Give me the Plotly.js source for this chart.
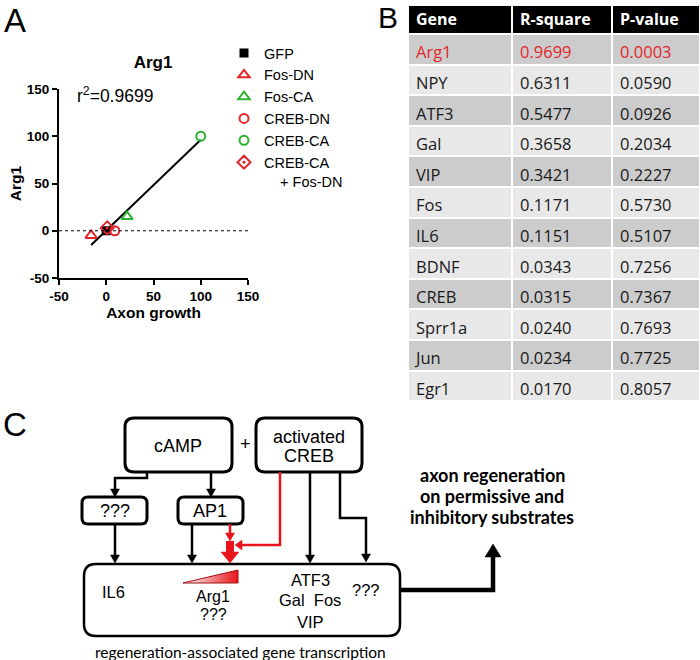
<!DOCTYPE html>
<html><head><meta charset="utf-8">
<script src="https://cdn.plot.ly/plotly-3.0.1.min.js"></script>
<style>html,body{margin:0;padding:0;background:#fff}</style>
</head><body><div id="chart" style="width:700px;height:660px"></div>
<script>
// ---------- Panel A data ----------
const groups = ['GFP', 'Fos-DN', 'Fos-CA', 'CREB-DN', 'CREB-CA', 'CREB-CA + Fos-DN'];
const axonGrowth = [0, -16, 22, 9, 100, 1];
const arg1Level = [0, -5, 15, 0, 100, 3];
const r2Text = '0.9699';
const xTicks = [-50, 0, 50, 100, 150];
const yTicks = [-50, 0, 50, 100, 150];

// ---------- Panel B data ----------
const genes = ['Arg1', 'NPY', 'ATF3', 'Gal', 'VIP', 'Fos', 'IL6', 'BDNF', 'CREB', 'Sprr1a', 'Jun', 'Egr1'];
const rSquare = [0.9699, 0.6311, 0.5477, 0.3658, 0.3421, 0.1171, 0.1151, 0.0343, 0.0315, 0.0240, 0.0234, 0.0170];
const pValue = [0.0003, 0.0590, 0.0926, 0.2034, 0.2227, 0.5730, 0.5107, 0.7256, 0.7367, 0.7693, 0.7725, 0.8057];
const tableHeader = ['Gene', 'R-square', 'P-value'];

// ---------- styles ----------
const RED = '#e3262b', GREEN = '#2cb52c';
const groupStyle = [
  {symbol: 'square', color: '#000', size: 7},
  {symbol: 'triangle-up-open', color: RED, size: 10},
  {symbol: 'triangle-up-open', color: GREEN, size: 10},
  {symbol: 'circle-open', color: RED, size: 9},
  {symbol: 'circle-open', color: GREEN, size: 9},
  {symbol: 'diamond-open-dot', color: RED, size: 10}
];

// least-squares fit computed from the data
const n = axonGrowth.length;
const mx = axonGrowth.reduce((a, b) => a + b, 0) / n;
const my = arg1Level.reduce((a, b) => a + b, 0) / n;
let sxy = 0, sxx = 0;
for (let i = 0; i < n; i++) { sxy += (axonGrowth[i] - mx) * (arg1Level[i] - my); sxx += (axonGrowth[i] - mx) ** 2; }
const slope = sxy / sxx, icpt = my - slope * mx;
const fitX = [Math.min(...axonGrowth), Math.max(...axonGrowth)];
const fitY = fitX.map(v => icpt + slope * v);

const traces = [];
traces.push({x: fitX, y: fitY, mode: 'lines', line: {color: '#000', width: 2}, showlegend: false, hoverinfo: 'skip', xaxis: 'x', yaxis: 'y'});
groups.forEach((g, i) => {
  const s = groupStyle[i];
  const label = g === 'CREB-CA + Fos-DN' ? 'CREB-CA<br>\u00a0\u00a0\u00a0\u00a0+ Fos-DN' : g;
  traces.push({
    x: [axonGrowth[i]], y: [arg1Level[i]], name: label, mode: 'markers', xaxis: 'x', yaxis: 'y',
    marker: {symbol: s.symbol, size: s.size, color: s.color, line: {color: s.color, width: 2}}
  });
});

// ---------- table ----------
// background layer (cell fills) + text layer (transparent fills, nudged up so text sits centred)
const rowFill = genes.map((_, i) => i % 2 === 0 ? '#cccccc' : '#e8e8e8');
const rowFont = genes.map((_, i) => i === 0 ? RED : '#1a1a1a');
const TF = 'Open Sans';
const blank = genes.map(() => ' ');
const clear = genes.map(() => 'rgba(0,0,0,0)');
traces.push({
  type: 'table',
  domain: {x: [408 / 700, 1], y: [1 - 402 / 660, 1 - 5 / 660]},
  columnwidth: [104, 100, 88],
  header: {values: [' ', ' ', ' '], fill: {color: '#000'}, height: 29, line: {color: '#ffffff', width: 2}},
  cells: {values: [blank, blank, blank], height: 30.6, fill: {color: [rowFill, rowFill, rowFill]}, line: {color: '#ffffff', width: 2}}
});
traces.push({
  type: 'table',
  domain: {x: [408 / 700, 1], y: [1 - 404 / 660, 1]},
  columnwidth: [104, 100, 88],
  header: {values: tableHeader.map(t => '<b>' + t + '</b>'), fill: {color: 'rgba(0,0,0,0)'}, align: 'left', height: 29,
    font: {family: TF, size: 16, color: '#fff'}, line: {color: 'rgba(0,0,0,0)', width: 0}},
  cells: {values: [genes, rSquare, pValue], format: ['', '.4f', '.4f'], align: 'left', height: 30.6,
    fill: {color: [clear, clear, clear]}, font: {family: TF, size: 16.5, color: [rowFont, rowFont, rowFont]},
    line: {color: 'rgba(0,0,0,0)', width: 0}}
});

// ---------- diagram (panel C) helpers, pixel space on x2/y2 ----------
function rr(x0, y0, x1, y1, r) {
  return `M${x0 + r},${y0} H${x1 - r} Q${x1},${y0} ${x1},${y0 + r} V${y1 - r} Q${x1},${y1} ${x1 - r},${y1} H${x0 + r} Q${x0},${y1} ${x0},${y1 - r} V${y0 + r} Q${x0},${y0} ${x0 + r},${y0} Z`;
}
const shapes = [];
function box(x0, y0, x1, y1, r, w) {
  shapes.push({type: 'path', xref: 'x2', yref: 'y2', path: rr(x0, y0, x1, y1, r), line: {color: '#000', width: w}, fillcolor: 'rgba(0,0,0,0)'});
}
function poly(d, color, w) {
  shapes.push({type: 'path', xref: 'x2', yref: 'y2', path: d, line: {color: color, width: w}});
}
function head(d, color) {
  shapes.push({type: 'path', xref: 'x2', yref: 'y2', path: d, line: {color: color, width: 0.5}, fillcolor: color});
}
function downHead(x, tip, w, h, color) { head(`M${x - w / 2},${tip - h} L${x + w / 2},${tip - h} L${x},${tip} Z`, color); }

box(125, 418, 232, 472, 9, 3);
box(256, 418, 362, 472, 9, 3);
box(82, 497, 147, 524, 6, 3);
box(178, 497, 243, 524, 6, 3);
box(84, 564, 400, 636, 12, 2.5);

// black connectors
poly('M147,472 V478 H115 V490', '#000', 2.5); downHead(115, 497, 9, 8, '#000');
poly('M211,472 V490', '#000', 2.5); downHead(211, 497, 9, 8, '#000');
poly('M115,524 V556', '#000', 2.5); downHead(115, 563, 9, 8, '#000');
poly('M192,524 V556', '#000', 2.5); downHead(192, 563, 9, 8, '#000');
poly('M310,472 V556', '#000', 2.5); downHead(310, 563, 9, 8, '#000');
poly('M340,472 V518 H366 V555', '#000', 2.5); downHead(366, 562, 9, 8, '#000');
// red connectors
const R2 = '#e8141c';
poly('M230,524 V534', R2, 2.5); downHead(230, 541, 9, 8, R2);
poly('M280,472 V545 H241', R2, 2.5);
head('M242,540 L242,550 L235,545 Z', R2);
shapes.push({type: 'rect', xref: 'x2', yref: 'y2', x0: 226, x1: 234, y0: 541, y1: 553, fillcolor: R2, line: {width: 0}});
downHead(230, 563, 18, 11, R2);
// output arrow
poly('M400,590 H493 V556', '#000', 4.5);
head('M485,557 L501,557 L493,544 Z', '#000');

// gradient triangle trace
traces.push({x: [183, 238, 238, 183], y: [583, 583, 570, 583], xaxis: 'x2', yaxis: 'y2', mode: 'lines', fill: 'toself',
  fillgradient: {type: 'horizontal', colorscale: [[0, '#ffffff'], [1, '#e8141c']]},
  line: {color: '#a01010', width: 1}, showlegend: false, hoverinfo: 'skip'});

const AR = 'Liberation Sans, Arial, sans-serif';
const ann = [];
function txt(x, y, t, size, opts) {
  ann.push(Object.assign({xref: 'x2', yref: 'y2', x: x, y: y, text: t, showarrow: false, xanchor: 'center', yanchor: 'middle',
    font: {family: AR, size: size, color: '#000'}}, opts || {}));
}
txt(15, 20, 'A', 33);
txt(388, 17, 'B', 30);
txt(15, 424, 'C', 33);
txt(75, 95, 'r<sup>2</sup>=' + r2Text, 17.5, {xanchor: 'left'});
txt(178, 446, 'cAMP', 18);
txt(245, 444, '+', 18);
txt(309, 437, 'activated', 18);
txt(309, 456, 'CREB', 18);
txt(115, 511, '???', 18);
txt(210, 511, 'AP1', 18);
txt(113, 592, 'IL6', 16.5);
txt(213, 596, 'Arg1', 16);
txt(213, 614, '???', 16);
txt(310, 580, 'ATF3', 16.5);
txt(310, 600, 'Gal\u00a0\u00a0Fos', 16.5);
txt(310, 622, 'VIP', 16.5);
txt(366, 590, '???', 16.5);
txt(240, 652, 'regeneration-associated gene transcription', 15.5, {font: {family: 'Lato', size: 15.5, color: '#000'}});
const BF = {family: 'Lato', size: 18, color: '#000'};
txt(492, 474.5, '<b>axon regeneration</b>', 18, {font: BF});
txt(492, 495.5, '<b>on permissive and</b>', 18, {font: BF});
txt(492, 516.5, '<b>inhibitory substrates</b>', 18, {font: BF});

// dotted zero line
shapes.push({type: 'line', xref: 'x', yref: 'y', x0: xTicks[0], x1: xTicks[xTicks.length - 1], y0: 0, y1: 0, line: {color: '#000', width: 1, dash: 'dot'}});

const axFont = {family: AR, size: 13.5, color: '#000'};
const layout = {
  width: 700, height: 660, margin: {l: 0, r: 0, t: 0, b: 0},
  paper_bgcolor: '#fff', plot_bgcolor: 'rgba(0,0,0,0)',
  title: {text: '<b>Arg1</b>', x: 153 / 700, xanchor: 'center', y: 1 - 62 / 660, yanchor: 'middle', font: {family: AR, size: 17, color: '#000'}},
  xaxis: {domain: [59 / 700, 248 / 700], range: [-50, 150], tickvals: xTicks, ticktext: xTicks.map(v => '<b>' + v + '</b>'),
    showgrid: false, zeroline: false,
    showline: true, linewidth: 2, linecolor: '#000', ticks: 'outside', ticklen: 5, tickwidth: 2, tickcolor: '#000',
    tickfont: axFont, title: {text: '<b>Axon growth</b>', font: {family: AR, size: 15.5, color: '#000'}, standoff: 3}, fixedrange: true},
  yaxis: {domain: [1 - 278 / 660, 1 - 89 / 660], range: [-50, 150], tickvals: yTicks, ticktext: yTicks.map(v => '<b>' + v + '</b>'),
    showgrid: false, zeroline: false,
    showline: true, linewidth: 2, linecolor: '#000', ticks: 'outside', ticklen: 5, tickwidth: 2, tickcolor: '#000',
    tickfont: axFont, title: {text: '<b>Arg1</b>', font: {family: AR, size: 15.5, color: '#000'}, standoff: 1}, fixedrange: true},
  xaxis2: {domain: [0, 1], range: [0, 700], visible: false, fixedrange: true, anchor: 'y2'},
  yaxis2: {domain: [0, 1], range: [660, 0], visible: false, fixedrange: true, anchor: 'x2'},
  legend: {x: 224 / 700, xanchor: 'left', y: 1 - 37 / 660, yanchor: 'top', bgcolor: 'rgba(0,0,0,0)', valign: 'top',
    font: {family: AR, size: 14.5, color: '#000'}, itemwidth: 30, tracegroupgap: 0},
  shapes: shapes, annotations: ann, showlegend: true
};
Plotly.newPlot('chart', traces, layout, {displayModeBar: false, staticPlot: true});
</script>
</body></html>
